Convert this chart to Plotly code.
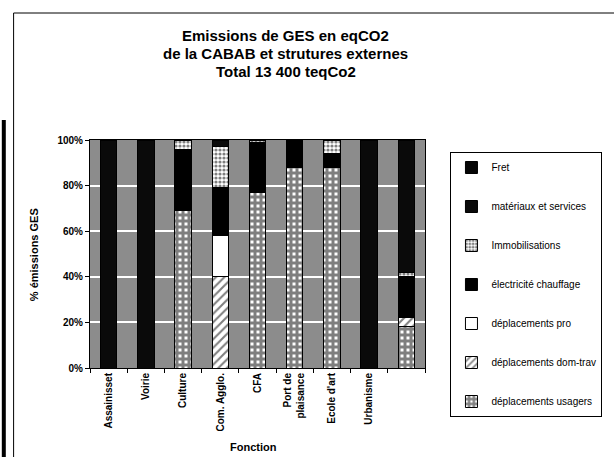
import plotly.graph_objects as go

categories = ["Assainisset", "Voirie", "Culture", "Com. Agglo.", "CFA",
              "Port de<br>plaisance", "Ecole d'art", "Urbanisme", " "]

# stacked bottom -> top (values in % of each function's emissions)
depl_usagers   = [0, 0, 69, 0, 77, 88, 88, 0, 18]
depl_domtrav   = [0, 0, 0, 40, 0, 0, 0, 0, 4]
depl_pro       = [0, 0, 0, 18, 0, 0, 0, 0, 0]
electricite    = [0, 0, 27, 21, 22, 12, 6, 0, 18]
immobilisations = [0, 0, 4, 18, 1, 0, 6, 0, 2]
materiaux      = [100, 100, 0, 3, 0, 0, 0, 100, 58]
fret           = [0, 0, 0, 0, 0, 0, 0, 0, 0]

series_names = ["déplacements usagers", "déplacements dom-trav", "déplacements pro",
                "électricité chauffage", "Immobilisations", "matériaux et services", "Fret"]
series_values = [depl_usagers, depl_domtrav, depl_pro, electricite,
                 immobilisations, materiaux, fret]

styles = [
    dict(color="black", pattern=dict(shape="+", fgcolor="black", bgcolor="white", size=6, solidity=0.75)),
    dict(color="white", pattern=dict(shape="/", fgcolor="black", bgcolor="white", size=6, solidity=0.35)),
    dict(color="white"),
    dict(color="black"),
    dict(color="white", pattern=dict(shape=".", fgcolor="black", bgcolor="white", size=4, solidity=0.5)),
    dict(color="#0a0a0a"),
    dict(color="#050505"),
]

fig = go.Figure()
n = len(series_names)
for i, (name, vals, st) in enumerate(zip(series_names, series_values, styles)):
    marker = dict(color=st["color"], line=dict(color="black", width=1))
    if "pattern" in st:
        marker["pattern"] = st["pattern"]
    fig.add_trace(go.Bar(x=categories, y=vals, name=name, marker=marker,
                         legendgroup=name, legendrank=100 + (n - i)))

FONT = "Liberation Sans, Arial, sans-serif"
W, H = 614, 457
L, R, T, B = 90, 182, 140, 89
pw, ph = W - L - R, H - T - B

def px_x(x):
    return (x - L) / pw

def px_y(y):
    return (H - B - y) / ph

fig.update_layout(
    width=W, height=H,
    margin=dict(l=L, r=R, t=T, b=B),
    barmode="stack", barnorm="percent", bargap=0.56,
    paper_bgcolor="white", plot_bgcolor="#8c8c8c",
    font=dict(family=FONT, color="black"),
    showlegend=True,
    legend=dict(traceorder="grouped", x=px_x(458), y=px_y(152),
                xanchor="left", yanchor="top",
                bordercolor="black", borderwidth=1, bgcolor="white",
                font=dict(size=10, family=FONT), tracegroupgap=20,
                itemwidth=30, maxheight=400),
)
fig.update_yaxes(range=[0, 100], dtick=20, ticksuffix="%", showgrid=True, automargin=False,
                 gridcolor="white", gridwidth=2, showline=True, linecolor="black",
                 linewidth=1, mirror=True, ticks="outside", ticklen=4, tickcolor="black",
                 tickfont=dict(size=10, family=FONT, weight="bold"), zeroline=False)
fig.update_xaxes(tickangle=-90, showline=True, linecolor="black", linewidth=1, mirror=True,
                 ticks="outside", ticklen=4, tickcolor="black", tickson="boundaries",
                 automargin=False,
                 tickfont=dict(size=10, family=FONT, weight="bold"), showgrid=False)

title_lines = ["Emissions de GES en eqCO2", "de la CABAB et strutures externes", "Total 13 400 teqCo2"]
for line, yp in zip(title_lines, [35, 53, 71]):
    fig.add_annotation(text=f"<b>{line}</b>", xref="paper", yref="paper",
                       x=px_x(290), y=px_y(yp), showarrow=False,
                       xanchor="center", yanchor="middle",
                       font=dict(size=15, family=FONT, color="black"))

fig.add_annotation(text="<b>% émissions GES</b>", xref="paper", yref="paper",
                   x=px_x(33), y=px_y(255), showarrow=False, textangle=-90,
                   xanchor="center", yanchor="middle",
                   font=dict(size=11, family=FONT, color="black"))
fig.add_annotation(text="<b>Fonction</b>", xref="paper", yref="paper",
                   x=px_x(257), y=px_y(447), showarrow=False,
                   xanchor="center", yanchor="middle",
                   font=dict(size=11, family=FONT, color="black"))

# chart-area frame and scan edge
fig.add_shape(type="rect", xref="paper", yref="paper",
              x0=px_x(12), x1=px_x(640), y0=px_y(480), y1=px_y(13),
              line=dict(color="black", width=1), fillcolor="rgba(0,0,0,0)", layer="below")
fig.add_shape(type="line", xref="paper", yref="paper",
              x0=px_x(2), x1=px_x(2), y0=px_y(120), y1=px_y(457),
              line=dict(color="black", width=4))

fig.write_html("out.html", config={"displayModeBar": False},
               post_script="document.body.style.margin='0';")
